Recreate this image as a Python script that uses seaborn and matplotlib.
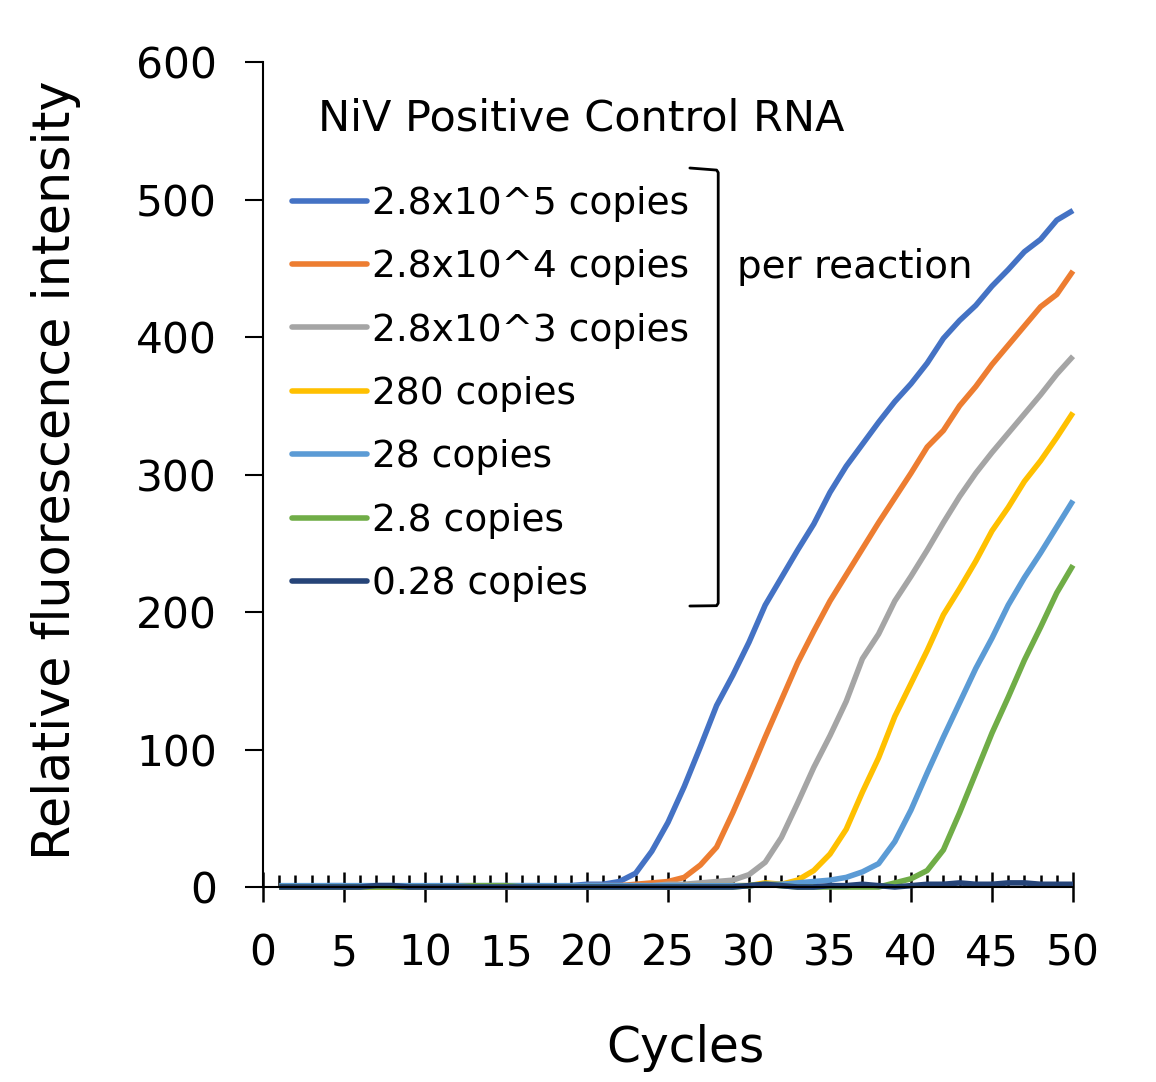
import numpy as np
import pandas as pd
import seaborn as sns
import matplotlib.pyplot as plt
from matplotlib.lines import Line2D
from matplotlib.ticker import MultipleLocator

# ciclos e fluorescencia relativa de cada diluicao
cycles = list(range(1, 51))

c_28e5 = [0, 0, 0, 1, 1, 0, 1, 1, 0, 0, 0, 0, 0, 1, 1, 0, 0, 0, 1, 2,
          2, 4, 10, 26, 47, 73, 102, 132, 154, 178, 205, 225, 245, 264, 287, 306, 322, 338, 353, 366,
          381, 399, 412, 423, 437, 449, 462, 471, 485, 492]
c_28e4 = [0, 0, 0, 0, 0, 0, 0, 0, 0, 0, 0, 1, 1, 0, 0, 0, 0, 0, 0, 1,
          1, 1, 2, 3, 4, 7, 16, 29, 54, 81, 109, 136, 163, 186, 208, 227, 246, 265, 283, 301,
          320, 332, 350, 364, 380, 394, 408, 422, 431, 448]
c_28e3 = [0, 0, 0, 0, 0, 0, 0, 0, 0, 0, 0, 0, 0, 0, 1, 1, 1, 0, 0, 1,
          1, 1, 1, 1, 2, 2, 3, 4, 5, 9, 18, 36, 61, 87, 110, 135, 166, 184, 208, 226,
          245, 265, 284, 301, 316, 330, 344, 358, 373, 386]
c_280 = [0, 0, 0, 0, 0, 0, 0, 0, 0, 0, 1, 0, 0, 0, 0, 0, 0, 0, 0, 0,
         0, 0, 0, 0, 0, 1, 1, 1, 1, 1, 3, 2, 5, 12, 24, 42, 69, 94, 124, 148,
         172, 198, 217, 237, 259, 276, 295, 310, 327, 345]
c_28 = [1, 1, 1, 1, 1, 1, 1, 1, 1, 1, 1, 1, 1, 1, 1, 1, 1, 1, 1, 1,
        1, 1, 1, 1, 1, 1, 1, 1, 1, 1, 2, 2, 3, 4, 5, 7, 11, 17, 33, 56,
        83, 109, 134, 159, 181, 205, 225, 243, 262, 281]
c_2_8 = [0, 0, 0, 0, 0, 0, 0, 0, 0, 0, 0, 0, 1, 1, 1, 0, 0, 0, 0, 0,
         0, 0, 0, 0, 0, 0, 0, 0, 0, 1, 2, 1, 0, 0, 0, 0, 0, 0, 3, 6,
         12, 27, 54, 83, 112, 138, 165, 189, 214, 234]
c_0_28 = [0, 0, 0, 0, 0, 0, 1, 1, 0, 0, 0, 0, 0, 0, 0, 0, 0, 0, 0, 0,
          0, 0, 0, 0, 0, 0, 0, 0, 0, 1, 2, 1, 0, 0, 1, 1, 2, 1, 0, 1,
          2, 2, 3, 2, 2, 3, 3, 2, 2, 2]

labels = ["2.8x10^5 copies", "2.8x10^4 copies", "2.8x10^3 copies",
          "280 copies", "28 copies", "2.8 copies", "0.28 copies"]
series = [c_28e5, c_28e4, c_28e3, c_280, c_28, c_2_8, c_0_28]
cores = ["#4472C4", "#ED7D31", "#A5A5A5", "#FFC000", "#5B9BD5", "#70AD47", "#264478"]

# formato longo para o seaborn
dados = pd.concat([pd.DataFrame({"Cycle": cycles, "RFU": s, "Sample": lab})
                   for s, lab in zip(series, labels)], ignore_index=True)

sns.set_style("white")
plt.rcParams['font.family'] = ['DejaVu Sans']
plt.rcParams.update({"text.color": "black", "axes.labelcolor": "black",
                     "xtick.color": "black", "ytick.color": "black"})

fig = plt.figure(figsize=(11.56, 10.82), dpi=100)
ax = fig.add_axes([0.2275, 0.1802, 0.7007, 0.7625])

sns.lineplot(data=dados, x="Cycle", y="RFU", hue="Sample", hue_order=labels,
             palette=cores, linewidth=4, ax=ax, legend=False)
for ln in ax.lines:
    ln.set_clip_on(False)
    ln.set_solid_capstyle("butt")

ax.set_xlim(0, 50)
ax.set_ylim(0, 600)
ax.xaxis.set_major_locator(MultipleLocator(5))
ax.xaxis.set_minor_locator(MultipleLocator(1))
ax.yaxis.set_major_locator(MultipleLocator(100))

for lado in ["top", "right"]:
    ax.spines[lado].set_visible(False)
for lado in ["left", "bottom"]:
    ax.spines[lado].set_linewidth(1.5)
    ax.spines[lado].set_color("black")

ax.tick_params(axis="x", which="major", direction="inout", length=22, width=1.8,
               labelsize=30.5, pad=22, bottom=True)
ax.tick_params(axis="x", which="minor", direction="in", length=8.5, width=1.8, bottom=True)
ax.tick_params(axis="y", which="major", direction="out", length=13, width=1.5,
               labelsize=30.5, pad=20, left=True)

ax.set_xlabel("Cycles", fontsize=35)
ax.set_ylabel("Relative fluorescence intensity", fontsize=36.5)
ax.xaxis.set_label_coords(0.522, -0.166)
ax.yaxis.set_label_coords(-0.225, 0.505)

# legenda
handles = [Line2D([], [], color=c, lw=4, solid_capstyle="round") for c in cores]
ax.legend(handles, labels, loc="upper left", bbox_to_anchor=(0.036, 0.85),
          frameon=False, fontsize=27, handlelength=2.0, handletextpad=0.12,
          labelspacing=0.73, borderaxespad=0, borderpad=0)

ax.text(0.068, 0.932, "NiV Positive Control RNA", transform=ax.transAxes,
        fontsize=31, va="center", ha="left")
ax.plot([0.527, 0.56, 0.562, 0.562, 0.56, 0.527],
        [0.8715, 0.869, 0.866, 0.344, 0.341, 0.3406],
        transform=ax.transAxes, color="black", lw=2, clip_on=False)
ax.text(0.585, 0.751, "per reaction", transform=ax.transAxes,
        fontsize=28, va="center", ha="left")

plt.savefig("out.png", dpi=100)
